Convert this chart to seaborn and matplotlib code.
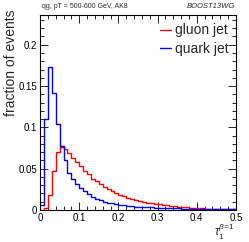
import numpy as np
import pandas as pd
import matplotlib
matplotlib.use("Agg")
import matplotlib.pyplot as plt
import seaborn as sns
from matplotlib.ticker import MultipleLocator, FuncFormatter

bin_width = 0.01
x_range = (0.0, 0.5)

gluon_vals = [0.0, 0.003, 0.018, 0.047, 0.070, 0.0764, 0.074, 0.069, 0.063, 0.0577,
              0.0528, 0.0467, 0.043, 0.038, 0.0345, 0.031, 0.028, 0.0255, 0.0225, 0.020,
              0.018, 0.0165, 0.015, 0.0135, 0.012, 0.011, 0.010, 0.009, 0.0083, 0.0075,
              0.007, 0.0063, 0.0057, 0.005, 0.0045, 0.004, 0.0035, 0.0032, 0.0028, 0.0025,
              0.0022, 0.002, 0.0018, 0.0016, 0.0014, 0.0013, 0.0012, 0.0011, 0.001, 0.0009]
quark_vals = [0.006, 0.110, 0.173, 0.142, 0.104, 0.077, 0.061, 0.045, 0.037, 0.031,
              0.0265, 0.0225, 0.019, 0.016, 0.013, 0.0115, 0.0098, 0.0088, 0.008, 0.007,
              0.0063, 0.0057, 0.0052, 0.0047, 0.0042, 0.004, 0.0037, 0.0034, 0.0031, 0.0029,
              0.0027, 0.0025, 0.0023, 0.0021, 0.002, 0.0019, 0.0018, 0.0017, 0.0016, 0.0015,
              0.0014, 0.0014, 0.0013, 0.0013, 0.0012, 0.0012, 0.0011, 0.0011, 0.001, 0.001]

labels = ["gluon jet", "quark jet"]
colors = ["#ff0000", "#0000ff"]
title_left = "qg, pT = 500-600 GeV, AK8"
title_right = "BOOST13WG"

n_bins = len(gluon_vals)
centers = x_range[0] + bin_width * (np.arange(n_bins) + 0.5)
df = pd.concat([
    pd.DataFrame({"tau": centers, "w": gluon_vals, "jet": labels[0]}),
    pd.DataFrame({"tau": centers, "w": quark_vals, "jet": labels[1]}),
], ignore_index=True)

sns.set_style("ticks")
plt.rcParams["font.family"] = ["Liberation Sans", "DejaVu Sans"]
plt.rcParams["mathtext.fontset"] = "custom"
plt.rcParams["mathtext.rm"] = "Liberation Sans"
plt.rcParams["mathtext.it"] = "Liberation Sans:italic"

fig = plt.figure(figsize=(2.49, 2.42), dpi=100)
ax = fig.add_axes([40 / 249, 1 - 210 / 242, 196 / 249, 195 / 242])

for lab, col in zip(labels, colors):
    sub = df[df["jet"] == lab]
    sns.histplot(data=sub, x="tau", weights="w", binwidth=bin_width, binrange=x_range,
                 element="step", fill=False, color=col, linewidth=1.0, ax=ax, label=lab)

ax.set_xlim(0, 0.5)
ax.set_ylim(0, 0.236)
ax.xaxis.set_major_locator(MultipleLocator(0.1))
ax.xaxis.set_minor_locator(MultipleLocator(0.02))
ax.yaxis.set_major_locator(MultipleLocator(0.05))
ax.yaxis.set_minor_locator(MultipleLocator(0.01))
ax.xaxis.set_major_formatter(FuncFormatter(lambda v, p: f"{v:g}"))
ax.yaxis.set_major_formatter(FuncFormatter(lambda v, p: f"{v:g}"))
ax.tick_params(which="both", direction="in", top=True, right=True, width=0.6, colors="black",
               labelsize=7, pad=2)
ax.tick_params(which="major", length=6)
ax.tick_params(which="minor", length=3)
for s in ax.spines.values():
    s.set_linewidth(0.8)
    s.set_color("black")

ax.set_xlabel("")
ax.set_ylabel("fraction of events", fontsize=10, loc="top")
ax.yaxis.set_label_coords(-0.112, 1.026)
fig.text(235 / 249, 1 - 241.5 / 242, r"$\tau_1^{\beta\!=\!1}$", fontsize=8.5,
         ha="right", va="bottom")

fig.text(42 / 249, 1 - 6 / 242, title_left, fontsize=5, ha="left", va="center")
fig.text(235 / 249, 1 - 6 / 242, title_right, fontsize=5.5, ha="right", va="center", style="italic")

leg = ax.legend(loc="upper right", bbox_to_anchor=(0.99, 0.985), frameon=False, fontsize=10,
                handlelength=0.8, handletextpad=0.3, labelspacing=0.35, borderaxespad=0)

fig.savefig("out.png", dpi=100)
